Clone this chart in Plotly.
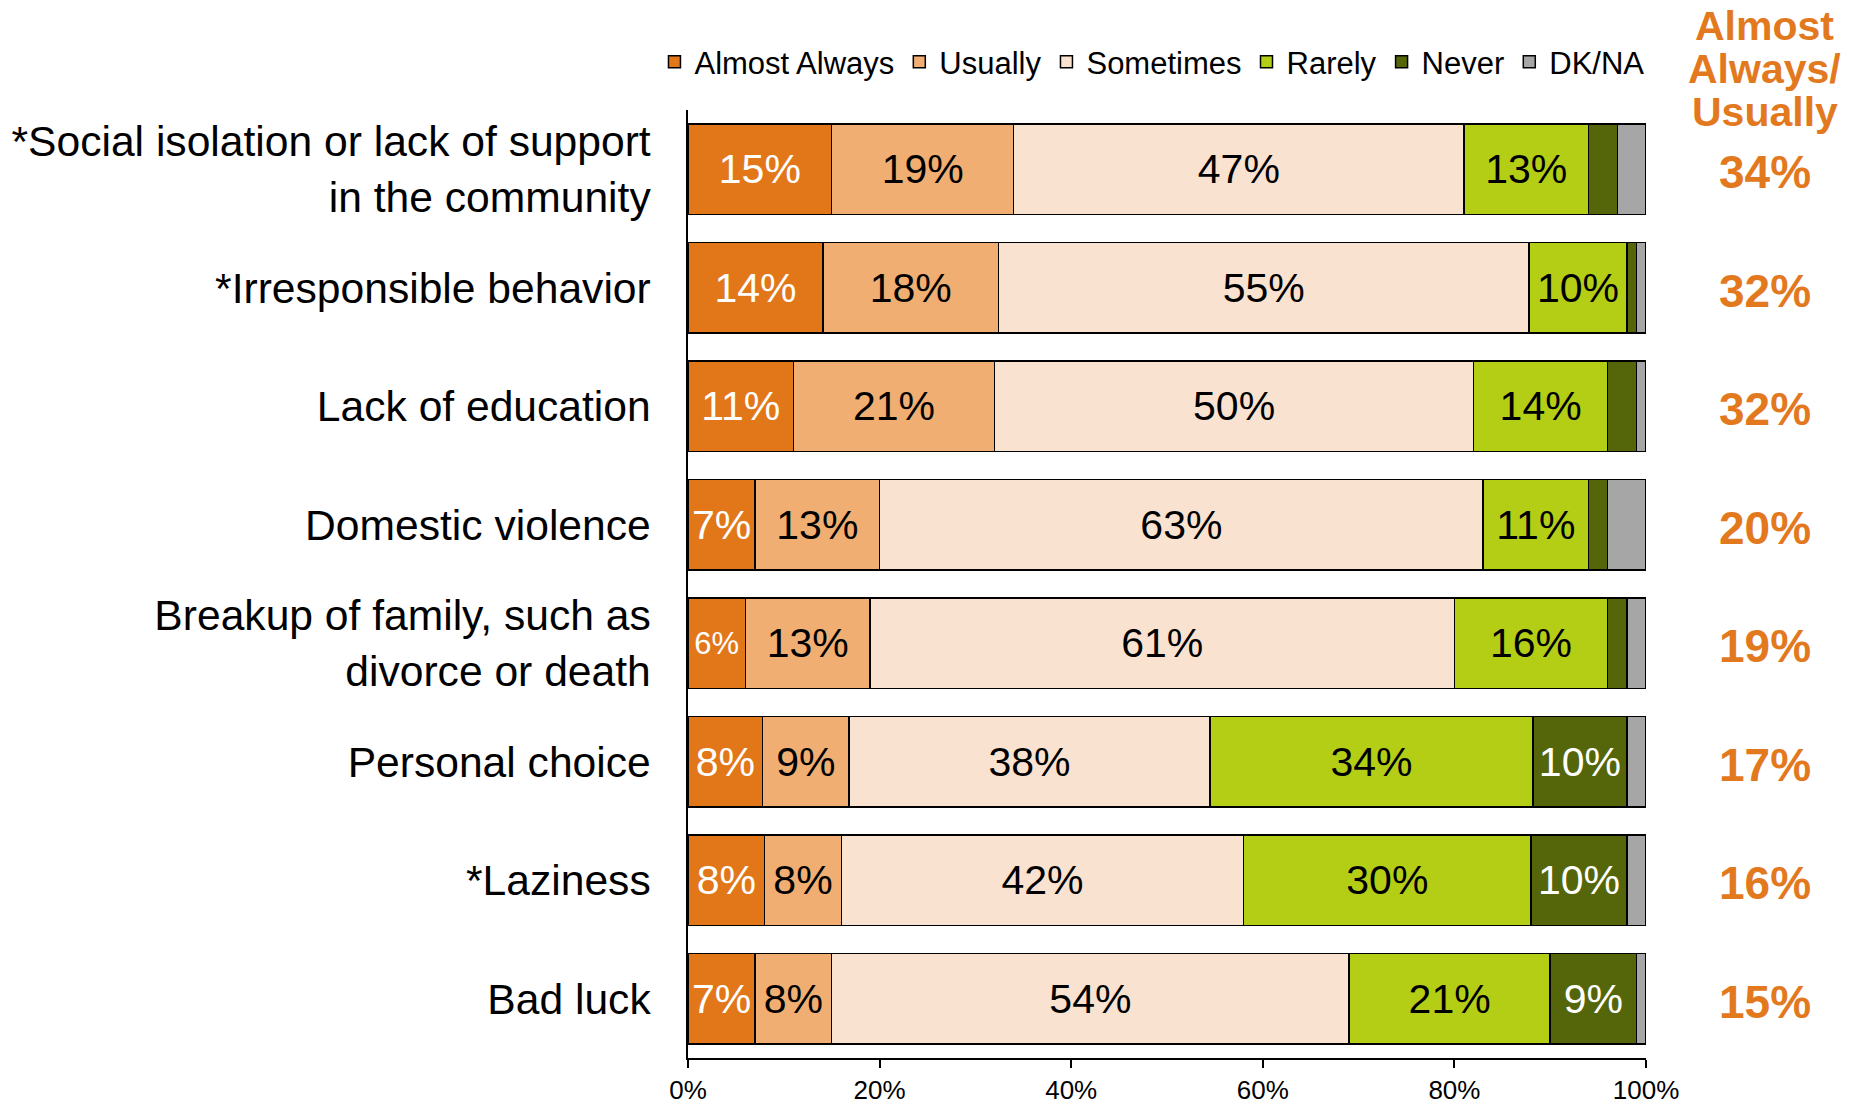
import plotly.graph_objects as go

categories = [
    "*Social isolation or lack of support<br>in the community",
    "*Irresponsible behavior",
    "Lack of education",
    "Domestic violence",
    "Breakup of family, such as<br>divorce or death",
    "Personal choice",
    "*Laziness",
    "Bad luck",
]
series_names = ["Almost Always", "Usually", "Sometimes", "Rarely", "Never", "DK/NA"]
almost_always = [15, 14.1, 11, 7, 6, 7.8, 8, 7]
usually = [19, 18.3, 21, 13, 13, 9, 8, 8]
sometimes = [47, 55.4, 50, 63, 61, 37.7, 42, 54]
rarely = [13, 10.2, 14, 11, 16, 33.7, 30, 21]
never = [3, 1, 3, 2, 2, 9.8, 10, 9]
dk_na = [3, 1, 1, 4, 2, 2, 2, 1]
almost_always_usually = [34, 32, 32, 20, 19, 17, 16, 15]
x_tick_vals = [0, 20, 40, 60, 80, 100]
x_tick_labels = ["0%", "20%", "40%", "60%", "80%", "100%"]
header_lines = ["Almost", "Always/", "Usually"]

series_values = [almost_always, usually, sometimes, rarely, never, dk_na]
colors = ["#E2771A", "#F0AE72", "#FAE2D0", "#B4CE16", "#55660A", "#A6A6A6"]
text_colors = ["white", "black", "black", "black", "white", "black"]
ORANGE = "#E3791E"
FONT = "Liberation Sans, Arial, sans-serif"

fig = go.Figure()
for name, vals, col, tcol in zip(series_names, series_values, colors, text_colors):
    texts = [f"{round(v)}%" if v >= 5 else "" for v in vals]
    sizes = [31 if v < 6.5 else 41 for v in vals]
    fig.add_trace(go.Bar(
        name=name, y=categories, x=vals, orientation="h",
        marker=dict(color=col, line=dict(color="black", width=1.5)),
        text=texts, textposition="inside", insidetextanchor="middle",
        textangle=0, constraintext="none",
        textfont=dict(color=tcol, size=sizes, family=FONT),
        hoverinfo="skip",
    ))

for cat, v in zip(categories, almost_always_usually):
    fig.add_annotation(
        x=1.124, xref="paper", y=cat, yref="y", text=f"<b>{v}%</b>",
        showarrow=False, font=dict(size=46, color=ORANGE, family=FONT),
        xanchor="center", yanchor="middle", yshift=-3,
    )

header_y = [1.0886, 1.0433, 0.998]
for line, hy in zip(header_lines, header_y):
    fig.add_annotation(
        x=1.124, xref="paper", y=hy, yref="paper", text=f"<b>{line}</b>",
        showarrow=False, font=dict(size=41, color=ORANGE, family=FONT),
        xanchor="center", yanchor="middle",
    )

fig.update_layout(
    barmode="stack",
    bargap=0.237,
    width=1867, height=1105,
    margin=dict(l=688, r=221, t=110, b=47, autoexpand=False),
    plot_bgcolor="white", paper_bgcolor="white",
    font=dict(family=FONT, color="black"),
    showlegend=True,
    legend=dict(
        orientation="h", x=-0.035, xanchor="left", y=1.0505, yanchor="middle",
        font=dict(size=31, family=FONT, color="black"),
        bgcolor="rgba(0,0,0,0)", traceorder="normal",
    ),
    xaxis=dict(
        range=[0, 100], tickvals=x_tick_vals, ticktext=x_tick_labels,
        showgrid=False, zeroline=False, showline=True, linecolor="black",
        linewidth=2, ticks="outside", ticklen=8, tickwidth=1.5, tickcolor="black",
        tickfont=dict(size=26, family=FONT, color="black"), automargin=False,
    ),
    yaxis=dict(
        autorange="reversed", showgrid=False, zeroline=False, showline=True,
        linecolor="black", linewidth=1.5, ticks="", ticklabelstandoff=27,
        tickfont=dict(size=42.6, family=FONT, color="black"), automargin=False,
    ),
)

fig.write_html("out.html", config={"displayModeBar": False},
               post_script="document.body.style.margin='0';")
